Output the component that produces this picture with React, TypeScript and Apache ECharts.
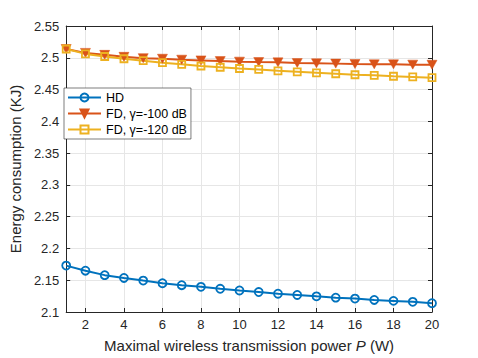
import React, { useEffect, useRef } from "react";
import * as echarts from "echarts";

const xValues = [1, 2, 3, 4, 5, 6, 7, 8, 9, 10, 11, 12, 13, 14, 15, 16, 17, 18, 19, 20];
const hdValues = [2.173, 2.165, 2.158, 2.1536, 2.1494, 2.1453, 2.1422, 2.1396, 2.1365, 2.1339, 2.1314, 2.1288, 2.1268, 2.1246, 2.1226, 2.1211, 2.119, 2.1175, 2.116, 2.1138];
const fd100Values = [2.5138, 2.5077, 2.5046, 2.5015, 2.4994, 2.4985, 2.497, 2.4959, 2.4948, 2.4939, 2.4933, 2.4928, 2.4917, 2.4913, 2.4908, 2.4902, 2.4897, 2.4897, 2.4892, 2.489];
const fd120Values = [2.5138, 2.5061, 2.502, 2.4985, 2.4954, 2.4923, 2.4897, 2.4871, 2.4851, 2.4831, 2.4816, 2.4795, 2.4779, 2.4764, 2.4749, 2.4733, 2.4724, 2.4709, 2.4698, 2.4687];
const xTicks = [2, 4, 6, 8, 10, 12, 14, 16, 18, 20];
const seriesNames = ["HD", "FD, γ=-100 dB", "FD, γ=-120 dB"];

const FONT = "Liberation Sans, Arial, sans-serif";
const AX = "#262626";

export default function App() {
  const ref = useRef<HTMLDivElement>(null);
  useEffect(() => {
    if (!ref.current) return;
    const chart = echarts.init(ref.current, null, { renderer: "svg" });
    const pts = (ys: number[]) => xValues.map((x, i) => [x, ys[i]]);
    const xCommon = {
      type: "value",
      min: 1,
      max: 20,
      axisLine: { show: true, onZero: false, lineStyle: { color: AX, width: 1 } },
      axisTick: { show: true, inside: true, length: 4, customValues: xTicks, lineStyle: { color: AX } },
    };
    const yCommon = {
      type: "value",
      min: 2.1,
      max: 2.55,
      interval: 0.05,
      axisLine: { show: true, onZero: false, lineStyle: { color: AX, width: 1 } },
      axisTick: { show: true, inside: true, length: 4, lineStyle: { color: AX } },
    };
    chart.setOption({
      animation: false,
      textStyle: { fontFamily: FONT },
      grid: { left: 62, right: 46, top: 26, bottom: 42, containLabel: false },
      legend: {
        orient: "vertical",
        left: 64,
        top: 88,
        itemWidth: 33,
        itemHeight: 10,
        itemGap: 3,
        padding: [3, 4, 3, 3],
        backgroundColor: "#ffffff",
        borderColor: AX,
        borderWidth: 0.6,
        borderRadius: 0,
        textStyle: { fontFamily: FONT, fontSize: 12.5, color: "#000" },
        data: seriesNames,
      },
      xAxis: [
        {
          ...xCommon,
          position: "bottom",
          name: "{a|Maximal wireless transmission power }{i|P}{a| (W)}",
          nameLocation: "middle",
          nameGap: 26,
          nameTextStyle: {
            rich: {
              a: { fontFamily: FONT, fontSize: 15, color: AX },
              i: { fontFamily: FONT, fontSize: 15, color: AX, fontStyle: "italic" },
            },
          },
          axisLabel: { show: true, customValues: xTicks, margin: 6, fontFamily: FONT, fontSize: 13, color: AX },
          splitLine: { show: true, customValues: xTicks, lineStyle: { color: "#e6e6e6", width: 1 } },
        },
        {
          ...xCommon,
          position: "top",
          axisLabel: { show: false },
          splitLine: { show: false },
        },
      ],
      yAxis: [
        {
          ...yCommon,
          position: "left",
          name: "Energy consumption (KJ)",
          nameLocation: "middle",
          nameGap: 34,
          nameTextStyle: { fontFamily: FONT, fontSize: 15, color: AX },
          axisLabel: {
            show: true,
            margin: 7,
            fontFamily: FONT,
            fontSize: 13,
            color: AX,
            formatter: (v: number) => String(parseFloat(v.toFixed(2))),
          },
          splitLine: { show: true, lineStyle: { color: "#e6e6e6", width: 1 } },
        },
        {
          ...yCommon,
          position: "right",
          axisLabel: { show: false },
          splitLine: { show: false },
        },
      ],
      series: [
        {
          name: seriesNames[0],
          type: "line",
          data: pts(hdValues),
          symbol: "circle",
          symbolSize: 8,
          lineStyle: { color: "#0072BD", width: 2 },
          itemStyle: { color: "rgba(255,255,255,0)", borderColor: "#0072BD", borderWidth: 1.8 },
        },
        {
          name: seriesNames[1],
          type: "line",
          data: pts(fd100Values),
          symbol: "triangle",
          symbolRotate: 180,
          symbolSize: [10, 9],
          lineStyle: { color: "#D95319", width: 2 },
          itemStyle: { color: "#D95319", borderColor: "#D95319", borderWidth: 0.5 },
        },
        {
          name: seriesNames[2],
          type: "line",
          data: pts(fd120Values),
          symbol: "rect",
          symbolSize: 7,
          lineStyle: { color: "#EDB120", width: 2 },
          itemStyle: { color: "rgba(255,255,255,0)", borderColor: "#EDB120", borderWidth: 1.8 },
        },
      ],
    });
    return () => chart.dispose();
  }, []);
  return (
    <div
      ref={ref}
      style={{ position: "fixed", left: 0, top: 0, width: 478, height: 358, background: "#fff" }}
    />
  );
}
